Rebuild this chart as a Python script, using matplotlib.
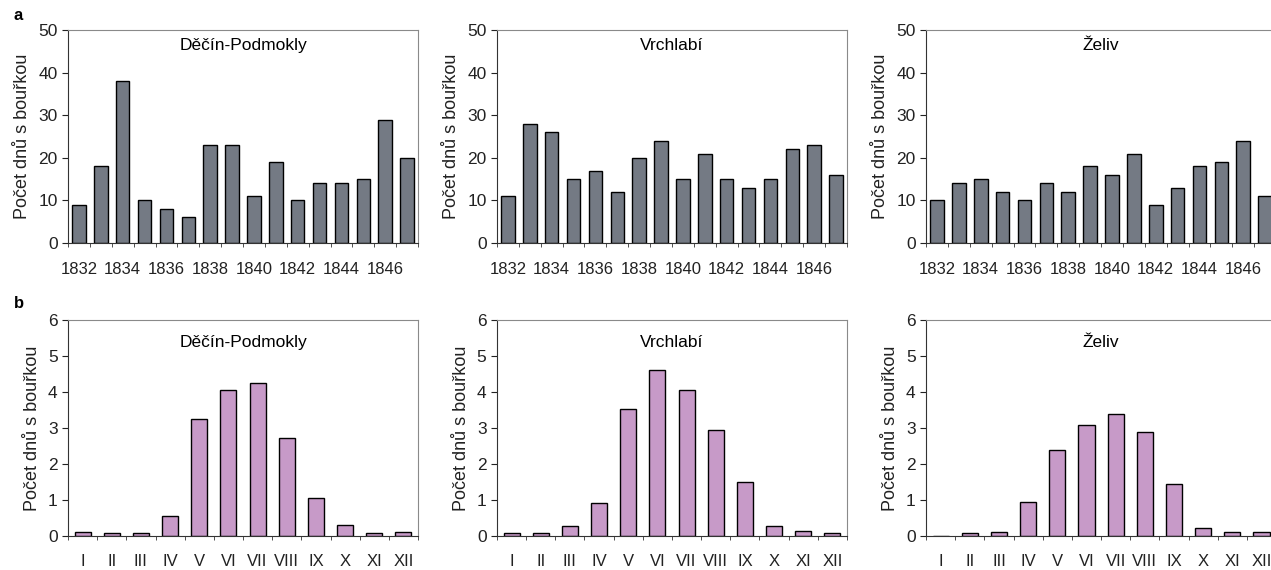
import matplotlib
matplotlib.use("Agg")
import matplotlib.pyplot as plt
import numpy as np

plt.rcParams['font.family'] = ['Liberation Sans', 'DejaVu Sans']

stations = ["Děčín-Podmokly", "Vrchlabí", "Želiv"]
years = list(range(1832, 1848))
year_labels = [str(y) if (y - 1832) % 2 == 0 else "" for y in years]
months = ["I", "II", "III", "IV", "V", "VI", "VII", "VIII", "IX", "X", "XI", "XII"]

# a: number of days with thunderstorm per year
decin_years = [9, 18, 38, 10, 8, 6, 23, 23, 11, 19, 10, 14, 14, 15, 29, 20]
vrchlabi_years = [11, 28, 26, 15, 17, 12, 20, 24, 15, 21, 15, 13, 15, 22, 23, 16]
zeliv_years = [10, 14, 15, 12, 10, 14, 12, 18, 16, 21, 9, 13, 18, 19, 24, 11]

# b: mean number of days with thunderstorm per month
decin_months = [0.1, 0.07, 0.07, 0.55, 3.25, 4.05, 4.25, 2.73, 1.05, 0.3, 0.07, 0.1]
vrchlabi_months = [0.07, 0.07, 0.27, 0.9, 3.53, 4.63, 4.05, 2.95, 1.5, 0.27, 0.12, 0.07]
zeliv_months = [0.0, 0.07, 0.1, 0.93, 2.38, 3.08, 3.4, 2.88, 1.45, 0.22, 0.1, 0.1]

year_data = [decin_years, vrchlabi_years, zeliv_years]
month_data = [decin_months, vrchlabi_months, zeliv_months]

gray = "#747a84"
purple = "#c79ac8"
ylab = "Počet dnů s bouřkou"

fig = plt.figure(figsize=(12.71, 5.70), dpi=100)

lefts = [0.0535, 0.391, 0.7286]
w = 0.2754


def style(ax, xpad):
    for s in ["top", "right"]:
        ax.spines[s].set_color("#8a8a8a")
    for s in ["left", "bottom"]:
        ax.spines[s].set_color("#333333")
    ax.tick_params(axis="y", direction="out", length=4, labelsize=12.5, colors="#222222")
    ax.tick_params(axis="x", which="major", length=0, labelsize=12, colors="#222222", pad=xpad)
    ax.tick_params(axis="x", which="minor", direction="out", length=3, color="#333333")
    ax.set_ylabel(ylab, fontsize=13, color="#222222", labelpad=5)


for i in range(3):
    # top row: yearly counts
    ax = fig.add_axes([lefts[i], 0.574, w, 0.373])
    x = np.arange(len(years))
    ax.bar(x, year_data[i], width=0.62, color=gray, edgecolor="black", linewidth=1)
    ax.set_xlim(-0.5, len(years) - 0.5)
    ax.set_ylim(0, 50)
    ax.set_yticks(range(0, 51, 10))
    ax.set_xticks(x)
    ax.set_xticklabels(year_labels)
    ax.set_xticks(np.arange(-0.5, len(years), 1), minor=True)
    style(ax, 14)
    ax.text(0.5, 0.93, stations[i], transform=ax.transAxes, ha="center", va="center", fontsize=12.5)

    # bottom row: monthly means
    ax = fig.add_axes([lefts[i], 0.06, w, 0.378])
    x = np.arange(len(months))
    ax.bar(x, month_data[i], width=0.55, color=purple, edgecolor="black", linewidth=1)
    ax.set_xlim(-0.5, len(months) - 0.5)
    ax.set_ylim(0, 6)
    ax.set_yticks(range(0, 7))
    ax.set_xticks(x)
    ax.set_xticklabels(months)
    ax.set_xticks(np.arange(-0.5, len(months), 1), minor=True)
    style(ax, 13)
    ax.text(0.5, 0.898, stations[i], transform=ax.transAxes, ha="center", va="center", fontsize=12.5)

fig.text(0.011, 0.965, "a", fontsize=12, fontweight="bold")
fig.text(0.011, 0.46, "b", fontsize=12, fontweight="bold")

fig.savefig("out.png", dpi=100, facecolor="white")
